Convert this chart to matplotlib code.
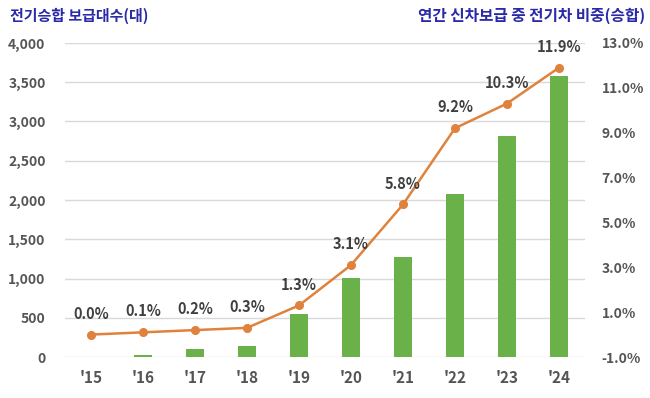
import numpy as np
import matplotlib.pyplot as plt

plt.rcParams['font.family'] = ['Noto Sans CJK KR', 'DejaVu Sans']

# 연도별 데이터
years = ["'15", "'16", "'17", "'18", "'19", "'20", "'21", "'22", "'23", "'24"]
bus_count = [0, 30, 100, 140, 550, 1010, 1280, 2070, 2810, 3580]
ev_share = [0.0, 0.1, 0.2, 0.3, 1.3, 3.1, 5.8, 9.2, 10.3, 11.9]

title_color = '#2a2aa8'
text_color = '#555555'

fig = plt.figure(figsize=(6.5, 3.98), dpi=100)
ax = fig.add_axes([0.1, 0.103, 0.8, 0.789])
x = np.arange(len(years))

ax.bar(x, bus_count, width=0.34, color='#6ab149', zorder=2)
ax.set_xlim(-0.5, len(years) - 0.5)
ax.set_ylim(0, 4000)
ax.set_yticks(range(0, 4001, 500))
ax.set_yticklabels(['{:,}'.format(v) for v in range(0, 4001, 500)])
ax.grid(axis='y', color='#d9d9d9', linewidth=1, zorder=0)
ax.set_xticks(x)
ax.set_xticklabels(years)
ax.tick_params(axis='y', length=0, pad=14, labelsize=10, labelcolor=text_color)
ax.tick_params(axis='x', length=0, pad=9, labelsize=11, labelcolor=text_color)
for lab in ax.get_yticklabels() + ax.get_xticklabels():
    lab.set_fontweight('bold')
for s in ax.spines.values():
    s.set_visible(False)

# 오른쪽 축: 비중
ax2 = ax.twinx()
ax2.plot(x, ev_share, color='#e0823c', linewidth=1.8, marker='o', markersize=5.5, zorder=3)
ax2.set_ylim(-1, 13)
ax2.set_yticks(np.arange(-1, 13.1, 2))
ax2.set_yticklabels(['{:.1f}%'.format(v) for v in np.arange(-1, 13.1, 2)])
ax2.tick_params(axis='y', length=0, pad=12, labelsize=10, labelcolor=text_color)
for lab in ax2.get_yticklabels():
    lab.set_fontweight('bold')
for s in ax2.spines.values():
    s.set_visible(False)

for xi, v in zip(x, ev_share):
    ax2.annotate('{:.1f}%'.format(v), (xi, v), xytext=(0, 15), textcoords='offset points',
                 ha='center', va='center', fontsize=10.5, fontweight='bold', color='#404040')

fig.text(0.015, 0.96, '전기승합 보급대수(대)', fontsize=10.8, fontweight='bold',
         color=title_color, ha='left', va='center')
fig.text(0.992, 0.96, '연간 신차보급 중 전기차 비중(승합)', fontsize=11.3, fontweight='bold',
         color=title_color, ha='right', va='center')

fig.savefig('out.png', dpi=100)
